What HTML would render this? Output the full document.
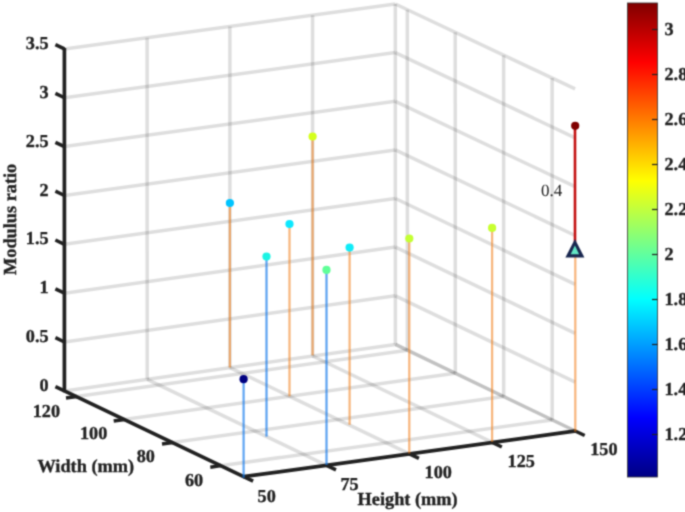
<!DOCTYPE html>
<html><head><meta charset="utf-8"><title>Modulus ratio plot</title>
<style>
html,body{margin:0;padding:0;background:#fff;}
body{width:685px;height:512px;overflow:hidden;}
svg{display:block;text-rendering:geometricPrecision;font-family:"Liberation Serif",serif;}
.g{stroke:#000;stroke-opacity:0.13;stroke-width:3.5;}
.so{stroke:#f07d18;stroke-opacity:0.56;stroke-width:2.25;}
.sb{stroke:#0c76ec;stroke-opacity:0.66;stroke-width:2.25;}
.ax{stroke:#222;stroke-width:3.7;stroke-linecap:butt;}
.tk{stroke:#222;stroke-width:3.5;}
.tl{font-size:18.2px;font-weight:bold;fill:#222;stroke:#222;stroke-width:0.35;}
.al{font-size:18.3px;font-weight:bold;fill:#222;stroke:#222;stroke-width:0.35;}
</style></head><body>
<svg width="685" height="512" viewBox="0 0 685 512">
<defs><linearGradient id="jet" x1="0" y1="1" x2="0" y2="0">
<stop offset="0" stop-color="#000083"/><stop offset="0.125" stop-color="#0000ff"/>
<stop offset="0.375" stop-color="#00ffff"/><stop offset="0.625" stop-color="#ffff00"/>
<stop offset="0.875" stop-color="#ff0000"/><stop offset="1" stop-color="#800000"/>
</linearGradient>
<filter id="soft" color-interpolation-filters="sRGB" x="0" y="0" width="685" height="512" filterUnits="userSpaceOnUse"><feConvolveMatrix order="3" kernelMatrix="0.0400 0.1200 0.0400 0.1200 0.3600 0.1200 0.0400 0.1200 0.0400" divisor="1" edgeMode="duplicate" preserveAlpha="false"/></filter></defs>
<rect width="685" height="512" fill="#fff"/>
<g id="plot" filter="url(#soft)">
<g class="grid"><line class="g" x1="326.5" y1="465.3" x2="147.2" y2="379.3"/>
<line class="g" x1="409.4" y1="453.9" x2="229.9" y2="367.6"/>
<line class="g" x1="492.3" y1="442.4" x2="312.6" y2="356.0"/>
<line class="g" x1="575.2" y1="431.0" x2="395.4" y2="344.4"/>
<line class="g" x1="220.7" y1="465.7" x2="552.2" y2="419.9"/>
<line class="g" x1="172.4" y1="442.6" x2="503.7" y2="396.6"/>
<line class="g" x1="124.1" y1="419.5" x2="455.3" y2="373.2"/>
<line class="g" x1="76.4" y1="396.6" x2="407.4" y2="350.2"/>
<line class="g" x1="147.2" y1="379.3" x2="147.1" y2="37.7"/>
<line class="g" x1="229.9" y1="367.6" x2="229.9" y2="26.4"/>
<line class="g" x1="312.6" y1="356.0" x2="312.6" y2="15.2"/>
<line class="g" x1="395.4" y1="344.4" x2="395.3" y2="4.0"/>
<line class="g" x1="64.4" y1="390.9" x2="395.4" y2="344.4"/>
<line class="g" x1="64.4" y1="342.0" x2="395.4" y2="295.8"/>
<line class="g" x1="64.4" y1="293.2" x2="395.4" y2="247.1"/>
<line class="g" x1="64.4" y1="244.3" x2="395.4" y2="198.5"/>
<line class="g" x1="64.4" y1="195.5" x2="395.3" y2="149.9"/>
<line class="g" x1="64.4" y1="146.6" x2="395.3" y2="101.3"/>
<line class="g" x1="64.4" y1="97.8" x2="395.3" y2="52.6"/>
<line class="g" x1="64.4" y1="48.9" x2="395.3" y2="4.0"/>
<line class="g" x1="552.2" y1="419.9" x2="552.1" y2="78.0"/>
<line class="g" x1="503.7" y1="396.6" x2="503.6" y2="55.2"/>
<line class="g" x1="455.3" y1="373.2" x2="455.2" y2="32.3"/>
<line class="g" x1="407.4" y1="350.2" x2="407.3" y2="9.7"/>
<line class="g" x1="395.4" y1="344.4" x2="575.2" y2="431.0"/>
<line class="g" x1="395.4" y1="295.8" x2="575.2" y2="382.1"/>
<line class="g" x1="395.4" y1="247.1" x2="575.2" y2="333.3"/>
<line class="g" x1="395.4" y1="198.5" x2="575.2" y2="284.4"/>
<line class="g" x1="395.3" y1="149.9" x2="575.1" y2="235.5"/>
<line class="g" x1="395.3" y1="101.3" x2="575.1" y2="186.6"/>
<line class="g" x1="395.3" y1="52.6" x2="575.1" y2="137.8"/>
<line class="g" x1="395.3" y1="4.0" x2="575.1" y2="88.9"/></g>
<polyline class="ax" fill="none" stroke-linejoin="miter" points="64.4,48.1 64.4,390.9 243.6,476.7 576.0,430.9"/>
<line class="tk" x1="64.4" y1="390.9" x2="55.4" y2="386.6"/>
<line class="tk" x1="64.4" y1="342.0" x2="55.4" y2="337.7"/>
<line class="tk" x1="64.4" y1="293.2" x2="55.4" y2="288.9"/>
<line class="tk" x1="64.4" y1="244.3" x2="55.4" y2="240.0"/>
<line class="tk" x1="64.4" y1="195.5" x2="55.4" y2="191.2"/>
<line class="tk" x1="64.4" y1="146.6" x2="55.4" y2="142.3"/>
<line class="tk" x1="64.4" y1="97.8" x2="55.4" y2="93.4"/>
<line class="tk" x1="64.4" y1="48.9" x2="55.4" y2="44.6"/>
<line class="tk" x1="221.2" y1="465.6" x2="210.3" y2="467.2"/>
<line class="tk" x1="172.9" y1="442.5" x2="162.0" y2="444.0"/>
<line class="tk" x1="124.6" y1="419.4" x2="113.7" y2="420.9"/>
<line class="tk" x1="76.9" y1="396.6" x2="66.0" y2="398.1"/>
<line class="tk" x1="243.6" y1="476.7" x2="253.1" y2="481.2"/>
<line class="tk" x1="326.5" y1="465.3" x2="336.0" y2="469.8"/>
<line class="tk" x1="409.4" y1="453.9" x2="418.9" y2="458.4"/>
<line class="tk" x1="492.3" y1="442.4" x2="501.8" y2="447.0"/>
<line class="tk" x1="575.2" y1="431.0" x2="584.7" y2="435.5"/>
<line class="so" x1="229.9" y1="203" x2="229.9" y2="367.5"/>
<line class="so" x1="312.6" y1="136.5" x2="312.6" y2="355.3"/>
<line class="so" x1="289.5" y1="224" x2="289.5" y2="396.3"/>
<line class="sb" x1="266.5" y1="256.5" x2="266.5" y2="436.6"/>
<line class="sb" x1="326.5" y1="269.9" x2="326.5" y2="465"/>
<line class="so" x1="349.6" y1="247.6" x2="349.6" y2="424.8"/>
<line class="sb" x1="243.6" y1="379.2" x2="243.6" y2="477.8"/>
<line class="so" x1="409.3" y1="238.5" x2="409.3" y2="453.5"/>
<line class="so" x1="492.1" y1="227.9" x2="492.1" y2="441.9"/>
<line class="so" x1="575.3" y1="250" x2="575.3" y2="431.6"/>
<line x1="575" y1="125.8" x2="575" y2="242" stroke="#c41010" stroke-width="2.6"/>
<circle cx="229.9" cy="203" r="4.1" fill="#00c4ff"/>
<circle cx="312.6" cy="136.5" r="4.1" fill="#d4ff1c"/>
<circle cx="289.5" cy="224" r="4.1" fill="#0ce8ff"/>
<circle cx="266.5" cy="256.5" r="4.1" fill="#1cf4e4"/>
<circle cx="326.5" cy="269.9" r="4.1" fill="#60ff98"/>
<circle cx="349.6" cy="247.6" r="4.1" fill="#10ecf8"/>
<circle cx="243.6" cy="379.2" r="4.1" fill="#000080"/>
<circle cx="409.3" cy="238.5" r="4.1" fill="#c4ff34"/>
<circle cx="492.1" cy="227.9" r="4.1" fill="#c8ff30"/>
<circle cx="575.2" cy="125.8" r="4.1" fill="#800000"/>
<polygon points="574.9,239 565.4,257.4 584.4,257.4" fill="#1a2850"/>
<polygon points="574.9,245.4 570.7,254.3 579.1,254.3" fill="#62e6c4"/>
<text class="tl" x="48.6" y="391.0" text-anchor="end">0</text>
<text class="tl" x="48.6" y="342.1" text-anchor="end">0.5</text>
<text class="tl" x="48.6" y="293.3" text-anchor="end">1</text>
<text class="tl" x="48.6" y="244.4" text-anchor="end">1.5</text>
<text class="tl" x="48.6" y="195.6" text-anchor="end">2</text>
<text class="tl" x="48.6" y="146.8" text-anchor="end">2.5</text>
<text class="tl" x="48.6" y="97.9" text-anchor="end">3</text>
<text class="tl" x="48.6" y="49.1" text-anchor="end">3.5</text>
<text class="tl" x="60" y="416.5" text-anchor="end">120</text>
<text class="tl" x="107.3" y="439" text-anchor="end">100</text>
<text class="tl" x="154.9" y="462" text-anchor="end">80</text>
<text class="tl" x="203.1" y="486.2" text-anchor="end">60</text>
<text class="tl" x="257.6" y="502">50</text>
<text class="tl" x="340.4" y="489.7">75</text>
<text class="tl" x="424.6" y="477.8">100</text>
<text class="tl" x="507.6" y="466.7">125</text>
<text class="tl" x="590.2" y="455">150</text>
<text class="al" x="37.4" y="472.3">Width (mm)</text>
<text class="al" x="357.6" y="505">Height (mm)</text>
<text class="al" transform="translate(16,275) rotate(-90)">Modulus ratio</text>
<text x="541" y="196" font-size="17" fill="#1c1c1c">0.4</text>
<rect x="627.5" y="3" width="30" height="474" fill="url(#jet)" stroke="#333" stroke-width="0.8"/>
<line x1="652" y1="29.5" x2="657.5" y2="29.5" stroke="#222" stroke-width="1.2"/>
<text class="tl" x="664.5" y="35.3">3</text>
<line x1="652" y1="74.5" x2="657.5" y2="74.5" stroke="#222" stroke-width="1.2"/>
<text class="tl" x="664.5" y="80.3">2.8</text>
<line x1="652" y1="119.5" x2="657.5" y2="119.5" stroke="#222" stroke-width="1.2"/>
<text class="tl" x="664.5" y="125.3">2.6</text>
<line x1="652" y1="164.5" x2="657.5" y2="164.5" stroke="#222" stroke-width="1.2"/>
<text class="tl" x="664.5" y="170.3">2.4</text>
<line x1="652" y1="209.5" x2="657.5" y2="209.5" stroke="#222" stroke-width="1.2"/>
<text class="tl" x="664.5" y="215.3">2.2</text>
<line x1="652" y1="254.5" x2="657.5" y2="254.5" stroke="#222" stroke-width="1.2"/>
<text class="tl" x="664.5" y="260.3">2</text>
<line x1="652" y1="299.5" x2="657.5" y2="299.5" stroke="#222" stroke-width="1.2"/>
<text class="tl" x="664.5" y="305.3">1.8</text>
<line x1="652" y1="344.5" x2="657.5" y2="344.5" stroke="#222" stroke-width="1.2"/>
<text class="tl" x="664.5" y="350.3">1.6</text>
<line x1="652" y1="389.5" x2="657.5" y2="389.5" stroke="#222" stroke-width="1.2"/>
<text class="tl" x="664.5" y="395.3">1.4</text>
<line x1="652" y1="434.5" x2="657.5" y2="434.5" stroke="#222" stroke-width="1.2"/>
<text class="tl" x="664.5" y="440.3">1.2</text>
</g>
</svg>
</body></html>
